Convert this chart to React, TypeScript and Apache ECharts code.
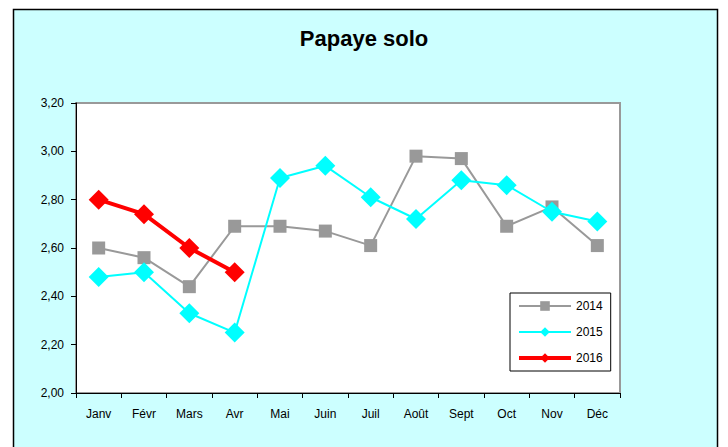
import React, { useEffect, useRef } from "react";
import * as echarts from "echarts";

const months = ["Janv", "Févr", "Mars", "Avr", "Mai", "Juin", "Juil", "Août", "Sept", "Oct", "Nov", "Déc"];
const values2014 = [2.6, 2.56, 2.44, 2.69, 2.69, 2.67, 2.61, 2.98, 2.97, 2.69, 2.77, 2.61];
const values2015 = [2.48, 2.5, 2.33, 2.25, 2.89, 2.94, 2.81, 2.72, 2.88, 2.86, 2.75, 2.71];
const values2016 = [2.8, 2.74, 2.6, 2.5];
const yTicks = { min: 2.0, max: 3.2, interval: 0.2 };

const FONT = "'Liberation Sans', Arial, sans-serif";

export default function App() {
  const ref = useRef<HTMLDivElement>(null);
  useEffect(() => {
    document.body.style.margin = "0";
    const chart = echarts.init(ref.current!, null, { renderer: "svg" });
    chart.setOption({
      animation: false,
      backgroundColor: "#ffffff",
      graphic: [
        {
          type: "rect",
          z: -10,
          silent: true,
          shape: { x: 13.5, y: 9.5, width: 704, height: 460 },
          style: { fill: "#CCFFFF", stroke: "#000000", lineWidth: 1.5 },
        },
      ],
      title: {
        text: "Papaye solo",
        left: "center",
        top: 22,
        textStyle: { fontFamily: FONT, fontSize: 22, fontWeight: "bold", color: "#000" },
      },
      grid: {
        left: 76,
        top: 103,
        right: 108,
        bottom: 54,
        show: true,
        backgroundColor: "#ffffff",
        borderColor: "#999999",
        borderWidth: 2,
      },
      legend: {
        orient: "vertical",
        left: 510,
        top: 293,
        backgroundColor: "#ffffff",
        borderColor: "#000000",
        borderWidth: 1,
        borderRadius: 0,
        padding: [7, 8, 7, 7],
        itemWidth: 52,
        itemHeight: 12,
        itemGap: 14,
        textStyle: { fontFamily: FONT, fontSize: 12, color: "#000" },
        data: [
          { name: "2014", lineStyle: { width: 2 } },
          { name: "2015", lineStyle: { width: 2 } },
          { name: "2016", lineStyle: { width: 4 } },
        ],
      },
      xAxis: {
        type: "category",
        data: months,
        boundaryGap: true,
        axisLine: { lineStyle: { color: "#000", width: 1 } },
        axisTick: { show: true, alignWithLabel: false, length: 5, lineStyle: { color: "#000" } },
        axisLabel: { fontFamily: FONT, fontSize: 12, color: "#000", margin: 15, interval: 0 },
        splitLine: { show: false },
      },
      yAxis: {
        type: "value",
        min: yTicks.min,
        max: yTicks.max,
        interval: yTicks.interval,
        axisLine: { show: true, lineStyle: { color: "#000", width: 1 } },
        axisTick: { show: true, length: 5, lineStyle: { color: "#000" } },
        axisLabel: {
          fontFamily: FONT,
          fontSize: 12,
          color: "#000",
          margin: 12,
          formatter: (v: number) => v.toFixed(2).replace(".", ","),
        },
        splitLine: { show: false },
      },
      series: [
        {
          name: "2014",
          type: "line",
          data: values2014,
          color: "#999999",
          symbol: "rect",
          symbolSize: 13,
          lineStyle: { color: "#999999", width: 2 },
          itemStyle: { color: "#999999" },
          z: 2,
        },
        {
          name: "2015",
          type: "line",
          data: values2015,
          color: "#00FFFF",
          symbol: "diamond",
          symbolSize: 20,
          lineStyle: { color: "#00FFFF", width: 2 },
          itemStyle: { color: "#00FFFF" },
          z: 3,
        },
        {
          name: "2016",
          type: "line",
          data: values2016,
          color: "#FF0000",
          symbol: "diamond",
          symbolSize: 20,
          lineStyle: { color: "#FF0000", width: 4 },
          itemStyle: { color: "#FF0000" },
          z: 4,
        },
      ],
    });
    return () => chart.dispose();
  }, []);
  return <div ref={ref} style={{ width: 728, height: 447 }} />;
}
